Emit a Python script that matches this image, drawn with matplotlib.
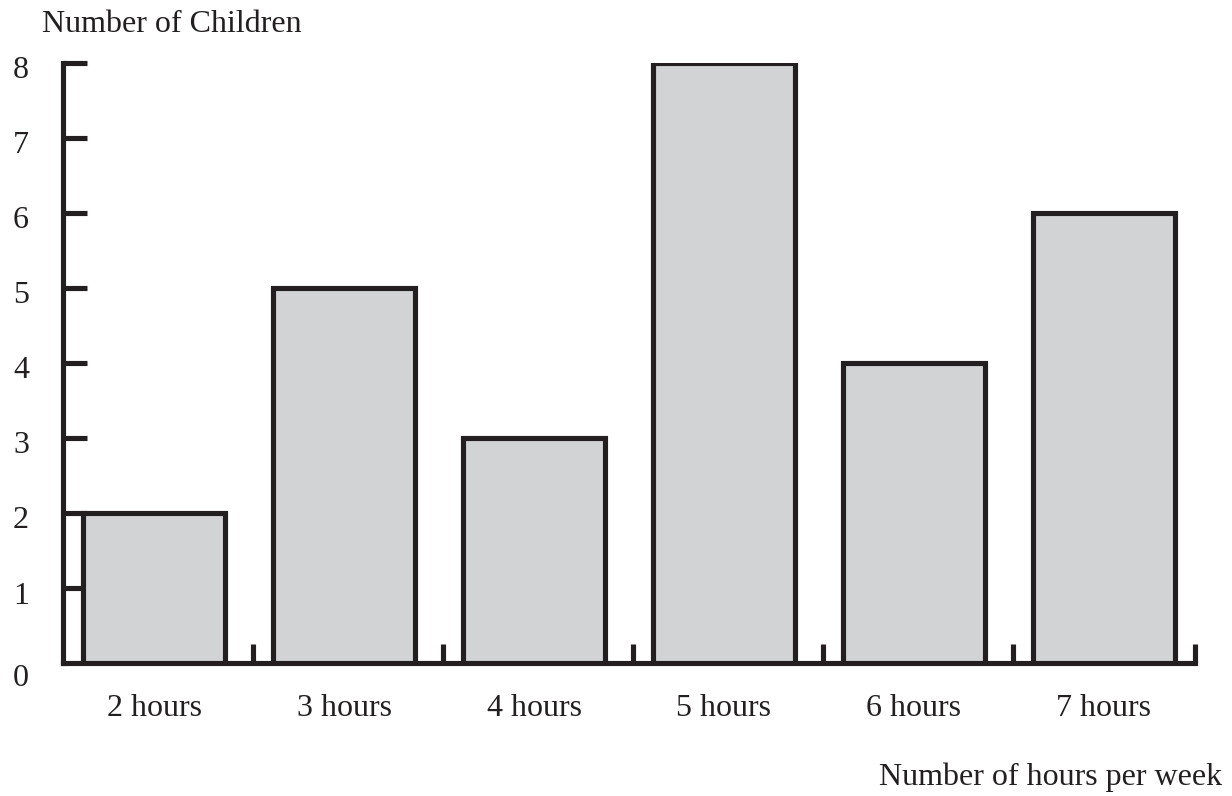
import matplotlib
matplotlib.use("Agg")
import matplotlib.pyplot as plt
import matplotlib.transforms as mtransforms

categories = ["2 hours", "3 hours", "4 hours", "5 hours", "6 hours", "7 hours"]
values = [2, 5, 3, 8, 4, 6]
y_ticks = [0, 1, 2, 3, 4, 5, 6, 7, 8]

plt.rcParams['font.family'] = ['Liberation Serif', 'DejaVu Serif']
INK = '#231f20'
FILL = '#d1d3d4'
FS = 23

fig = plt.figure(figsize=(12.32, 7.96), dpi=100)
W, H = 1232, 796
ax = fig.add_axes([63 / W, 1 - 663 / H, (1195 - 63) / W, (663 - 63) / H])

x = list(range(len(categories)))
ax.bar(x, values, width=0.75, color=FILL, edgecolor=INK, linewidth=3.7, zorder=3)

ax.set_xlim(-0.48, 5.48)
ax.set_ylim(0, 8)

for s in ['top', 'right']:
    ax.spines[s].set_visible(False)
for s in ['left', 'bottom']:
    ax.spines[s].set_linewidth(3.7)
    ax.spines[s].set_color(INK)
    ax.spines[s].set_capstyle('projecting')

ax.set_yticks(y_ticks[1:])
ax.set_yticklabels([])
ax.tick_params(axis='y', direction='in', length=17, width=3.7, color=INK)

sep = [i + 0.52 for i in range(len(categories) - 1)] + [5.48]
ax.set_xticks(sep)
ax.set_xticklabels([])
ax.tick_params(axis='x', direction='in', length=14, width=3.7, color=INK)

# y tick labels
for v in y_ticks:
    off = -16 if v == 0 else -8
    tr = ax.get_yaxis_transform() + mtransforms.ScaledTranslation(0, off / 100, fig.dpi_scale_trans)
    ax.text(-0.037, v, str(v), transform=tr, ha='center', va='center',
            fontsize=FS, color=INK, clip_on=False)

# category labels
for i, c in enumerate(categories):
    ax.text(i, 1 - 708 / H, c, transform=mtransforms.blended_transform_factory(ax.transData, fig.transFigure),
            ha='center', va='center', fontsize=FS, color=INK)

fig.text(42 / W, 1 - 25 / H, "Number of Children", ha='left', va='center', fontsize=FS, color=INK)
fig.text(1222 / W, 1 - 777 / H, "Number of hours per week", ha='right', va='center', fontsize=FS, color=INK)

fig.savefig("out.png", dpi=100)
